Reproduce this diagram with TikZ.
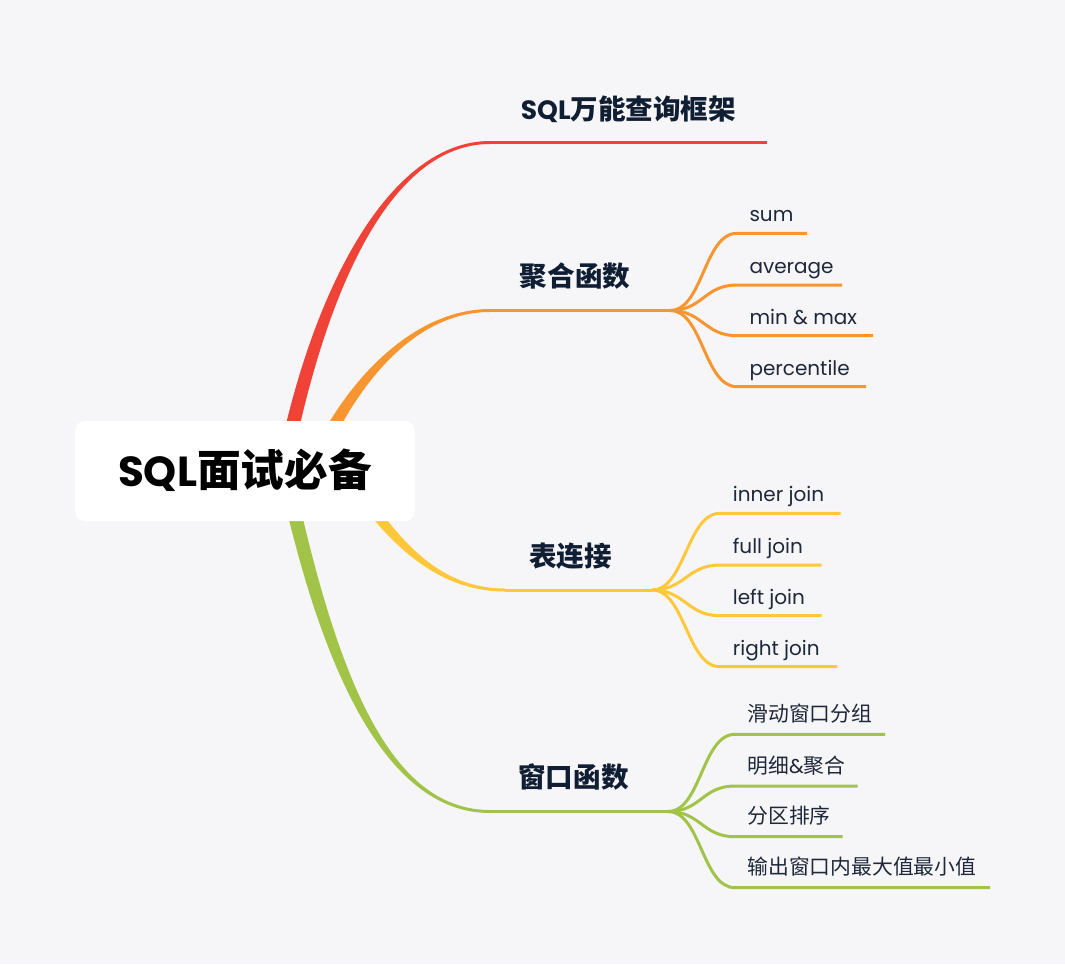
\documentclass[tikz,border=0pt]{standalone}
\usepackage{fontspec}
\setmainfont{Poppins}
\newfontfamily\cjk[Scale=1.04]{Noto Sans CJK SC}
\usetikzlibrary{calc}
\definecolor{bgc}{RGB}{246,246,248}
\definecolor{cred}{RGB}{240,66,54}
\definecolor{corange}{RGB}{247,150,48}
\definecolor{cyellow}{RGB}{255,200,58}
\definecolor{cgreen}{RGB}{161,195,72}
\definecolor{labc}{RGB}{16,30,52}
\definecolor{subc}{RGB}{30,40,58}
\tikzset{
  rootbox/.style={fill=white, rounded corners=10pt, minimum width=340pt, minimum height=100pt,
    inner sep=0pt, text=black, text height=31.2pt, text depth=0pt,
    font=\fontsize{42}{46}\selectfont\bfseries},
  mainlabel/.style={anchor=base, inner sep=0pt, text=labc, font=\fontsize{26.5}{30}\selectfont\bfseries},
  sublabel/.style={anchor=base west, inner sep=0pt, text=subc, font=\fontsize{20}{24}\selectfont},
  branchline/.style={line width=3pt},
}
\newcommand\taper[7]{%
  \fill[#1] let \p0=(#2), \p1=(#3), \p2=(#4), \p3=(#5),
    \p4=($(#2)!#6!90:(#3)$), \p5=($(#5)!#7!-90:(#4)$) in
    (\p4) .. controls ({\x1+\x4-\x0},{\y1+\y4-\y0}) and ({\x2+\x5-\x3},{\y2+\y5-\y3}) .. (\p5)
    -- ({2*\x3-\x5},{2*\y3-\y5})
    .. controls ({\x2-\x5+\x3},{\y2-\y5+\y3}) and ({\x1-\x4+\x0},{\y1-\y4+\y0}) .. ({2*\x0-\x4},{2*\y0-\y4})
    -- cycle;
}
\newcommand\subbranch[5]{% color, junction, start, end, dx
  \draw[branchline, #1] (#2) .. controls ($(#2)+(#5,0)$) and ($(#3)+(-#5,0)$) .. (#3) -- (#4);
}
\begin{document}
\begin{tikzpicture}[x=1pt, y=-1pt]
\useasboundingbox (0,0) rectangle (1065,964);
\fill[bgc] (0,0) rectangle (1065,964);

% main branch geometry
\coordinate (r0) at (283,471);  \coordinate (r1) at (318,290);
\coordinate (r2) at (390,142.5); \coordinate (r3) at (490,142.5); \coordinate (rE) at (767,142.5);
\coordinate (o0) at (312,471);  \coordinate (o1) at (345,390);
\coordinate (o2) at (410,310.5); \coordinate (o3) at (490,310.5); \coordinate (oJ) at (670,310.5);
\coordinate (y0) at (345,471);  \coordinate (y1) at (385,530);
\coordinate (y2) at (430,590); \coordinate (y3) at (505,590); \coordinate (yJ) at (652,590);
\coordinate (g0) at (285,471);  \coordinate (g1) at (330,680);
\coordinate (g2) at (390,811.5); \coordinate (g3) at (490,811.5); \coordinate (gJ) at (668,811.5);

\taper{cred}{r0}{r1}{r2}{r3}{7pt}{1.5pt}
\draw[branchline, cred] (r3) -- (rE);
\taper{corange}{o0}{o1}{o2}{o3}{6.5pt}{1.5pt}
\draw[branchline, corange] (o3) -- (oJ);
\taper{cyellow}{y0}{y1}{y2}{y3}{6pt}{1.5pt}
\draw[branchline, cyellow] (y3) -- (yJ);
\taper{cgreen}{g0}{g1}{g2}{g3}{7pt}{1.5pt}
\draw[branchline, cgreen] (g3) -- (gJ);

% sub branches: orange
\coordinate (os1) at (737,233.3); \coordinate (oe1) at (807,233.3);
\coordinate (os2) at (737,285);   \coordinate (oe2) at (842,285);
\coordinate (os3) at (737,335.7); \coordinate (oe3) at (873,335.7);
\coordinate (os4) at (737,386.7); \coordinate (oe4) at (866,386.7);
\subbranch{corange}{oJ}{os1}{oe1}{33}
\subbranch{corange}{oJ}{os2}{oe2}{33}
\subbranch{corange}{oJ}{os3}{oe3}{33}
\subbranch{corange}{oJ}{os4}{oe4}{33}
% yellow
\coordinate (ys1) at (720,513.3); \coordinate (ye1) at (840.7,513.3);
\coordinate (ys2) at (720,565);   \coordinate (ye2) at (821.7,565);
\coordinate (ys3) at (720,615.7); \coordinate (ye3) at (821.7,615.7);
\coordinate (ys4) at (720,666.7); \coordinate (ye4) at (837.3,666.7);
\subbranch{cyellow}{yJ}{ys1}{ye1}{33}
\subbranch{cyellow}{yJ}{ys2}{ye2}{33}
\subbranch{cyellow}{yJ}{ys3}{ye3}{33}
\subbranch{cyellow}{yJ}{ys4}{ye4}{33}
% green
\coordinate (gs1) at (735,734.3); \coordinate (ge1) at (885,734.3);
\coordinate (gs2) at (735,786);   \coordinate (ge2) at (857.7,786);
\coordinate (gs3) at (735,836.7); \coordinate (ge3) at (842.7,836.7);
\coordinate (gs4) at (735,887.7); \coordinate (ge4) at (990,887.7);
\subbranch{cgreen}{gJ}{gs1}{ge1}{33}
\subbranch{cgreen}{gJ}{gs2}{ge2}{33}
\subbranch{cgreen}{gJ}{gs3}{ge3}{33}
\subbranch{cgreen}{gJ}{gs4}{ge4}{33}

% root
\node[rootbox] (root) at (245,471) {SQL{\cjk 面试必备}};

% main labels
\node[mainlabel] (lred) at (628.5,119) {SQL{\cjk 万能查询框架}};
\node[mainlabel] (lorange) at (575,286.5) {\cjk 聚合函数};
\node[mainlabel] (lyellow) at (570.5,566) {\cjk 表连接};
\node[mainlabel] (lgreen) at (573.5,787) {\cjk 窗口函数};

% sub labels
\node[sublabel] (t1) at (749.3,221.8) {sum};
\node[sublabel] (t2) at (749.3,273.5) {average};
\node[sublabel] (t3) at (749.3,324.2) {min \& max};
\node[sublabel] (t4) at (749.3,375.2) {percentile};
\node[sublabel] (t5) at (732.7,501.8) {inner join};
\node[sublabel] (t6) at (732.7,553.5) {full join};
\node[sublabel] (t7) at (732.7,604.2) {left join};
\node[sublabel] (t8) at (732.7,655.2) {right join};
\node[sublabel] (t9) at (747.3,721.3) {\cjk 滑动窗口分组};
\node[sublabel] (t10) at (747.3,773) {{\cjk 明细}\&{\cjk 聚合}};
\node[sublabel] (t11) at (747.3,823.7) {\cjk 分区排序};
\node[sublabel] (t12) at (747.3,874.7) {\cjk 输出窗口内最大值最小值};
\end{tikzpicture}
\end{document}
